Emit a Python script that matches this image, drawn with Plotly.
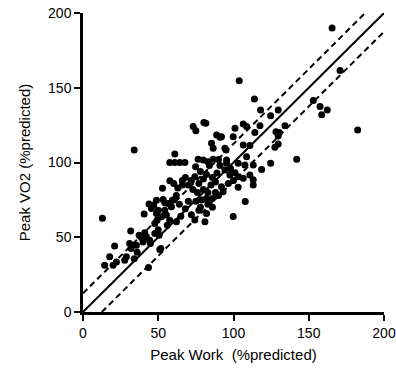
import plotly.graph_objects as go

# Peak Work (%predicted) vs Peak VO2 (%predicted)
peak_work = [
    12.9, 34, 43.5, 99.8, 107.8, 103.8, 113.9, 142, 153, 157.5, 162.3, 158.6, 165.5, 170.8, 182.5,
    118, 129.7, 124.7, 106.5, 108.7, 101, 117.6, 134.2, 99.8, 92, 114.2, 128.2, 130.4, 129.7, 95,
    106.5, 110.9, 129.7, 127.5, 124.7, 108.7, 103.1, 113.1, 118.7, 95.4, 113.1, 101, 103.1, 106.5,
    110.9, 113.1, 103.1, 93.1, 92, 95.4, 94.3, 97.6, 107.6, 100, 98, 91, 89, 90, 88, 86, 84, 96.5,
    73.2, 75, 81.6, 80.3, 91, 88.8, 85.4, 86.5, 94.3, 74.8, 76.5, 79.8, 86.5, 83, 74.3, 78, 80, 82,
    77, 72, 85, 83, 80, 76, 73, 70, 68, 66, 88, 86, 82, 79, 75, 78, 83,
    81, 82.1, 74.3, 72, 77, 86, 90, 62.1, 65, 68, 64, 70,
    61, 57.7, 61, 64.3, 67.7, 57.7, 60.3, 63, 66, 62, 60, 58.8, 59.4, 56.5, 55.4, 54.3, 57.6, 52.8,
    53.2, 52.1, 48.8, 49.2, 47.7, 43.9, 45.5, 47, 48.8, 40.6, 54.4, 50, 56, 50,
    14.4, 17.7, 21, 20, 22.2, 27.7, 28.8, 31.7, 31, 32, 34, 35.5, 37.3, 38.8, 39.9, 42.1, 44.3, 44.8,
    47.7, 50.6, 51.7, 51, 36, 41,
]
peak_vo2 = [
    62.7, 108.4, 29.8, 63.8, 73.9, 154.6, 142.4, 102.2, 141.4, 137.4, 135.2, 132, 190, 161.5, 121.8,
    135.2, 135.2, 131.2, 125.8, 124, 122.9, 124.5, 124.5, 117.3, 117.3, 120, 120.6, 120, 117.7, 108.4,
    111.7, 111.3, 112.4, 110.2, 99.5, 103.9, 99.5, 98.3, 95.4, 101.7, 84.9, 93.2, 90.5, 89.4,
    91.6, 88.5, 83.4, 80.4, 83.8, 99.5, 95, 91.6, 98.3, 88, 96, 98, 93, 102, 87, 90, 98, 86,
    124, 121.3, 126.3, 126.7, 116.9, 118.4, 112.9, 109.5, 109.5, 97.2, 102.1, 101.7, 102.1, 100.5, 90.5, 94, 89, 92,
    86, 88, 85, 80, 82, 80, 82, 85, 90, 88, 80, 76, 76, 75, 74, 70, 72,
    60.3, 65.9, 61.5, 65, 68, 70, 78, 60.3, 64, 69, 72, 74,
    105.7, 100, 100, 100, 100, 87.8, 86, 83, 85, 78, 75, 70.4, 74.8, 72.6, 64.8, 68.1, 61.4, 82.7,
    75.3, 63.7, 65.9, 61.4, 59.2, 72.2, 69.3, 71.5, 74.8, 65.5, 73, 68, 58, 55,
    31.3, 36.9, 44.2, 31.3, 33.5, 34.6, 36.9, 54.1, 45.8, 42.4, 35.7, 44.7, 51.4, 49.8, 46.9, 50.3, 48, 45.8,
    52.5, 51.4, 42.4, 41.8, 40, 53,
]

identity_x = [0, 200]
identity_y = [0, 200]
upper_x = [0, 187.5]
upper_y = [12.5, 200]
lower_x = [12.5, 200]
lower_y = [0, 187.5]

x_ticks = [0, 50, 100, 150, 200]
y_ticks = [0, 50, 100, 150, 200]

fig = go.Figure()
fig.add_trace(go.Scatter(x=identity_x, y=identity_y, mode="lines",
                         line=dict(color="black", width=2), showlegend=False))
fig.add_trace(go.Scatter(x=upper_x, y=upper_y, mode="lines",
                         line=dict(color="black", width=2, dash="6px,4px"), showlegend=False))
fig.add_trace(go.Scatter(x=lower_x, y=lower_y, mode="lines",
                         line=dict(color="black", width=2, dash="6px,4px"), showlegend=False))
fig.add_trace(go.Scatter(x=peak_work, y=peak_vo2, mode="markers",
                         marker=dict(color="black", size=7, line=dict(width=0)),
                         showlegend=False, cliponaxis=False))

font_family = "Liberation Sans, Arial"
axis_common = dict(
    range=[0, 200], showgrid=False, zeroline=False, showline=True,
    linecolor="black", linewidth=2.5, ticks="outside", ticklen=6, tickwidth=2,
    tickcolor="black", tickfont=dict(family=font_family, size=14, color="black"),
)
fig.update_layout(
    width=396, height=371,
    margin=dict(l=83, r=12, t=13, b=59, autoexpand=False),
    paper_bgcolor="white", plot_bgcolor="white",
    xaxis=dict(axis_common, tickvals=x_ticks,
               title=dict(text="Peak Work  (%predicted)", standoff=10,
                          font=dict(family=font_family, size=15, color="black"))),
    yaxis=dict(axis_common, tickvals=y_ticks,
               title=dict(text="Peak VO2 (%predicted)", standoff=14,
                          font=dict(family=font_family, size=15, color="black"))),
)
fig.write_html("out.html", config={"displayModeBar": False},
               post_script="document.body.style.margin='0';document.body.style.padding='0';document.documentElement.style.overflow='hidden';")
